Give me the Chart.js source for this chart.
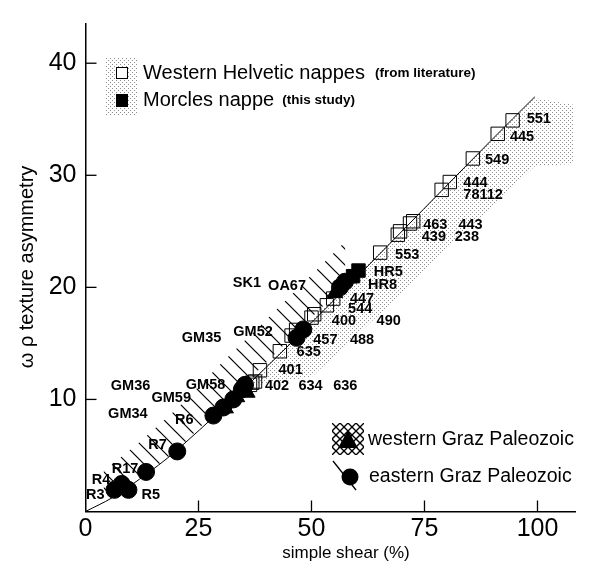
<!DOCTYPE html>
<html>
<head>
<meta charset="utf-8">
<script src="https://cdn.jsdelivr.net/npm/chart.js@4.4.1/dist/chart.umd.min.js"></script>
<style>
  html, body { margin: 0; padding: 0; background: #fff; }
  #chart { display: block; }
</style>
</head>
<body>
<canvas id="chart" width="589" height="570"></canvas>
<script>
// values: x = simple shear (%), y = texture asymmetry
const helveticX = [94.5, 91.2, 85.7, 80.6, 78.8, 72.5, 71.8, 69.6, 69.1, 65.2, 54.8, 53.4, 50.0, 50.6, 45.6, 46.6, 43.0, 38.6, 37.5, 36.4, 36.9];
const helveticY = [34.9, 33.7, 31.5, 29.4, 28.7, 25.9, 25.7, 25.0, 24.7, 23.1, 19.0, 18.4, 17.3, 17.6, 15.7, 16.2, 14.3, 12.6, 11.6, 11.3, 11.5];
const morclesX = [60.4, 59.2];
const morclesY = [21.5, 21.0];
const westGrazX = [31.0, 33.5, 35.8, 55.2, 58.4];
const westGrazY = [9.2, 10.2, 10.6, 19.5, 20.8];
const eastGrazX = [6.4, 8.0, 9.5, 13.4, 20.3, 28.3, 30.5, 32.7, 34.6, 35.3, 46.7, 48.2, 56.3, 57.4];
const eastGrazY = [1.93, 2.46, 1.93, 3.53, 5.36, 8.56, 9.28, 10.0, 10.9, 11.3, 15.5, 16.25, 20.0, 20.5];

// reference curve
const curveX = [0, 6, 12, 20.3, 99.4];
const curveY = [0, 1.25, 2.9, 5.5, 37.0];

// stippled field (Helvetic range) and hatched field (eastern Graz)
const stippleX = [36, 50, 65, 80, 99.4, 108];
const stippleTop = [11.6, 17.2, 23.2, 29.1, 36.9, 36.3];
const stippleBottom = [11.2, 12.0, 17.6, 23.5, 30.8, 31.0];
const hatchX = [4, 12, 20.3, 30, 40, 50, 57.5];
const hatchBottom = [0.83, 2.9, 5.5, 9.4, 13.3, 17.3, 20.3];
const hatchTop = [3.6, 6.2, 9.2, 13.2, 17.1, 21.1, 24.1];

const xTicks = [0, 25, 50, 75, 100];
const yTicks = [10, 20, 30, 40];

// sample names [text, x, y]
const sampleLabels = [
  ['551', 97.6, 35.0], ['445', 93.9, 33.4], ['549', 88.4, 31.4],
  ['444', 83.6, 29.3], ['78112', 83.6, 28.2],
  ['463', 74.7, 25.6], ['443', 82.5, 25.6], ['439', 74.4, 24.5], ['238', 81.7, 24.5],
  ['553', 68.5, 22.9], ['HR5', 63.8, 21.4], ['HR8', 62.5, 20.2],
  ['447', 58.5, 19.0], ['544', 58.1, 18.1], ['400', 54.5, 17.0], ['490', 64.4, 17.0],
  ['457', 50.4, 15.3], ['488', 58.5, 15.3], ['635', 46.7, 14.2], ['401', 42.7, 12.6],
  ['402', 39.7, 11.2], ['634', 47.1, 11.2], ['636', 54.8, 11.2],
  ['SK1', 32.6, 20.4], ['OA67', 40.4, 20.1], ['GM52', 32.7, 16.05], ['GM35', 21.3, 15.5],
  ['GM58', 22.2, 11.3], ['GM36', 5.6, 11.2], ['GM59', 14.6, 10.15], ['GM34', 5.0, 8.7],
  ['R6', 19.8, 8.2], ['R7', 13.9, 5.97], ['R17', 5.8, 3.76], ['R4', 1.4, 2.8],
  ['R3', 0.1, 1.44], ['R5', 12.4, 1.44]
];

const FONT = "'Liberation Sans', Arial, Helvetica, sans-serif";
Chart.defaults.font.family = FONT;
Chart.defaults.color = '#000';

function pts(xs, ys) {
  return xs.map((x, i) => ({ x: x, y: ys[i] }));
}

// fill patterns
function stipplePattern() {
  const c = document.createElement('canvas');
  c.width = 4; c.height = 4;
  const g = c.getContext('2d');
  g.fillStyle = 'rgba(0,0,0,0.45)';
  g.fillRect(0, 0, 1, 1);
  g.fillRect(2, 2, 1, 1);
  return g.createPattern(c, 'repeat');
}
function hatchPattern() {
  const s = 16;
  const c = document.createElement('canvas');
  c.width = s; c.height = s;
  const g = c.getContext('2d');
  g.strokeStyle = '#000';
  g.lineWidth = 1.2;
  for (let k = -1; k <= 1; k++) {
    g.beginPath();
    g.moveTo(-1, -1 + k * s);
    g.lineTo(s + 1, s + 1 + k * s);
    g.stroke();
  }
  return g.createPattern(c, 'repeat');
}
const dots = stipplePattern();
const hatch = hatchPattern();

const boundary = { pointRadius: 0, borderWidth: 0, borderColor: 'rgba(0,0,0,0)', showLine: true };

const inwardTicks = {
  id: 'inwardTicks',
  afterDatasetsDraw(chart) {
    const { ctx, scales: { x, y } } = chart;
    ctx.save();
    ctx.strokeStyle = '#000';
    ctx.lineWidth = 1.3;
    xTicks.forEach(v => {
      if (v === 0) return;
      const px = x.getPixelForValue(v);
      ctx.beginPath(); ctx.moveTo(px, y.bottom); ctx.lineTo(px, y.bottom - 11); ctx.stroke();
    });
    yTicks.forEach(v => {
      const py = y.getPixelForValue(v);
      ctx.beginPath(); ctx.moveTo(x.left, py); ctx.lineTo(x.left + 11, py); ctx.stroke();
    });
    ctx.restore();
  }
};

const sampleText = {
  id: 'sampleText',
  afterDatasetsDraw(chart) {
    const { ctx, scales: { x, y } } = chart;
    ctx.save();
    ctx.fillStyle = '#000';
    ctx.font = 'bold 14.5px ' + FONT;
    ctx.textAlign = 'left';
    ctx.textBaseline = 'middle';
    sampleLabels.forEach(([t, vx, vy]) => {
      ctx.fillText(t, x.getPixelForValue(vx), y.getPixelForValue(vy));
    });
    ctx.restore();
  }
};

const keysAndTitles = {
  id: 'keysAndTitles',
  afterDraw(chart) {
    const ctx = chart.ctx;
    ctx.save();
    ctx.fillStyle = '#000';
    ctx.strokeStyle = '#000';

    // upper key
    ctx.fillStyle = dots;
    ctx.fillRect(106, 58, 32, 57);
    ctx.fillStyle = '#fff';
    ctx.fillRect(116, 67, 12, 12);
    ctx.lineWidth = 1;
    ctx.strokeRect(116.5, 67.5, 11, 11);
    ctx.fillStyle = '#000';
    ctx.fillRect(116, 94, 12, 13);
    ctx.textBaseline = 'middle';
    ctx.textAlign = 'left';
    ctx.font = '20px ' + FONT;
    ctx.fillText('Western Helvetic nappes', 143, 73);
    let w = ctx.measureText('Western Helvetic nappes').width;
    ctx.font = 'bold 13.5px ' + FONT;
    ctx.fillText('(from literature)', 143 + w + 10, 73);
    ctx.font = '20px ' + FONT;
    ctx.fillText('Morcles nappe', 143, 100);
    w = ctx.measureText('Morcles nappe').width;
    ctx.font = 'bold 13.5px ' + FONT;
    ctx.fillText('(this study)', 143 + w + 8, 100);

    // lower key: western Graz (net + triangle)
    ctx.save();
    ctx.beginPath();
    ctx.rect(332, 423, 32, 32);
    ctx.clip();
    ctx.lineWidth = 1.3;
    for (let k = -40; k <= 40; k += 8) {
      ctx.beginPath(); ctx.moveTo(332 + k, 423); ctx.lineTo(364 + k, 455); ctx.stroke();
      ctx.beginPath(); ctx.moveTo(364 + k, 423); ctx.lineTo(332 + k, 455); ctx.stroke();
    }
    ctx.restore();
    ctx.beginPath();
    ctx.moveTo(348, 430); ctx.lineTo(358, 448); ctx.lineTo(338, 448); ctx.closePath();
    ctx.fill();
    // eastern Graz (circle + hatch stroke)
    ctx.lineWidth = 1.3;
    ctx.beginPath(); ctx.moveTo(333, 461); ctx.lineTo(356, 490); ctx.stroke();
    ctx.beginPath(); ctx.arc(350, 477, 8.5, 0, Math.PI * 2); ctx.fill();
    ctx.font = '19.5px ' + FONT;
    ctx.fillText('western Graz Paleozoic', 368, 440);
    ctx.fillText('eastern Graz Paleozoic', 369, 477);

    // axis titles
    ctx.font = '17px ' + FONT;
    ctx.textAlign = 'center';
    ctx.fillText('simple shear (%)', 346, 553);
    ctx.translate(27, 267);
    ctx.rotate(-Math.PI / 2);
    ctx.font = '20px ' + FONT;
    ctx.fillText('ω ρ texture asymmetry', 0, 0);
    ctx.restore();
  }
};

new Chart(document.getElementById('chart'), {
  type: 'line',
  data: {
    datasets: [
      Object.assign({ data: pts(stippleX, stippleTop), order: 10, fill: false }, boundary),
      Object.assign({ data: pts(stippleX, stippleBottom), order: 9, fill: '-1', backgroundColor: dots }, boundary),
      Object.assign({ data: pts(hatchX, hatchBottom), order: 8, fill: false }, boundary),
      Object.assign({ data: pts(hatchX, hatchTop), order: 7, fill: '-1', backgroundColor: hatch }, boundary),
      {
        label: 'curve', data: pts(curveX, curveY), order: 5,
        borderColor: '#000', borderWidth: 1, pointRadius: 0, fill: false,
        cubicInterpolationMode: 'monotone'
      },
      {
        label: 'Western Helvetic nappes', data: pts(helveticX, helveticY), order: 4, showLine: false,
        pointStyle: 'rect', pointRadius: 9.5, backgroundColor: 'rgba(0,0,0,0)', borderColor: '#000', borderWidth: 1
      },
      {
        label: 'Morcles nappe', data: pts(morclesX, morclesY), order: 3, showLine: false,
        pointStyle: 'rect', pointRadius: 9.5, backgroundColor: '#000', borderColor: '#000', borderWidth: 1
      },
      {
        label: 'western Graz Paleozoic', data: pts(westGrazX, westGrazY), order: 2, showLine: false,
        pointStyle: 'triangle', pointRadius: 9, backgroundColor: '#000', borderColor: '#000', borderWidth: 1
      },
      {
        label: 'eastern Graz Paleozoic', data: pts(eastGrazX, eastGrazY), order: 1, showLine: false,
        pointStyle: 'circle', pointRadius: 8.5, backgroundColor: '#000', borderColor: '#000', borderWidth: 1
      }
    ]
  },
  options: {
    responsive: false,
    animation: false,
    devicePixelRatio: 1,
    layout: { padding: { top: 12, right: 14, left: 0, bottom: 0 } },
    plugins: { legend: { display: false }, tooltip: { enabled: false } },
    scales: {
      x: {
        type: 'linear', min: 0, max: 108.3,
        grid: { display: false, drawTicks: false },
        border: { display: true, color: '#000', width: 1.5 },
        ticks: { stepSize: 25, includeBounds: false, autoSkip: false, maxRotation: 0, padding: 3,
                 font: { size: 25 }, color: '#000' },
        afterFit: s => { s.height = 58.5; }
      },
      y: {
        type: 'linear', min: 0, max: 43.5,
        grid: { display: false, drawTicks: false },
        border: { display: true, color: '#000', width: 1.5 },
        ticks: { stepSize: 10, includeBounds: false, padding: 9, font: { size: 25 }, color: '#000',
                 callback: v => (v === 0 ? '' : v) },
        afterFit: s => { s.width = 85.5; }
      }
    }
  },
  plugins: [inwardTicks, sampleText, keysAndTitles]
});
</script>
</body>
</html>
